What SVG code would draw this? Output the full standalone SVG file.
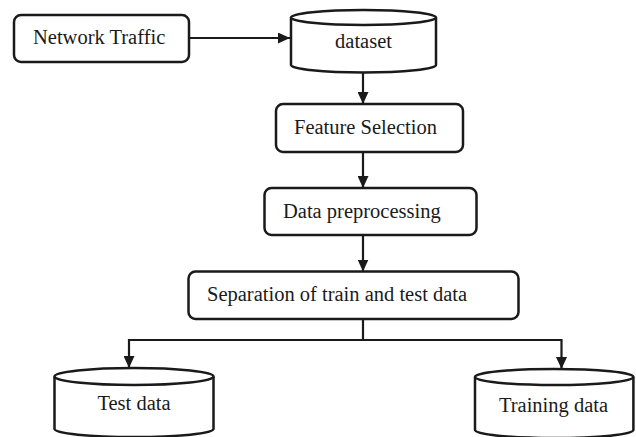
<svg xmlns="http://www.w3.org/2000/svg" width="636" height="437" viewBox="0 0 636 437">
  <style>
    .box { fill: #fff; stroke: #1a1a1a; stroke-width: 2.5; }
    .cyl { fill: #fff; stroke: #1a1a1a; stroke-width: 2.5; }
    .edge { fill: none; stroke: #1a1a1a; stroke-width: 2.2; }
    text { font-family: "Liberation Serif", "Times New Roman", serif; font-size: 20.5px; fill: #1a1a1a; }
  </style>
  <defs>
    <marker id="arrow" viewBox="0 0 12 11" refX="12" refY="5.5" markerWidth="12" markerHeight="11" markerUnits="userSpaceOnUse" orient="auto">
      <path d="M0,0 L12,5.5 L0,11 Z" fill="#1a1a1a"/>
    </marker>
  </defs>
  <rect width="636" height="437" fill="#fff"/>

  <g id="connectors">
    <line class="edge" x1="189" y1="38" x2="290" y2="38" marker-end="url(#arrow)"/>
    <line class="edge" x1="363" y1="73" x2="363" y2="104" marker-end="url(#arrow)"/>
    <line class="edge" x1="363" y1="152" x2="363" y2="188" marker-end="url(#arrow)"/>
    <line class="edge" x1="363" y1="235" x2="363" y2="271.5" marker-end="url(#arrow)"/>
    <polyline class="edge" points="363,319 363,340 129,340 129,368" marker-end="url(#arrow)"/>
    <polyline class="edge" points="363,340 561.5,340 561.5,369" marker-end="url(#arrow)"/>
  </g>

  <g id="network-traffic">
    <rect class="box" x="14" y="15" width="175" height="47" rx="7"/>
    <text x="33" y="44">Network Traffic</text>
  </g>

  <g id="dataset">
    <path class="cyl" d="M291,17.5 L291,65 A72.5,7.5 0 0 0 436,65 L436,17.5"/>
    <ellipse class="cyl" cx="363.5" cy="17.5" rx="72.5" ry="7.5"/>
    <text x="363.5" y="48" text-anchor="middle">dataset</text>
  </g>

  <g id="feature-selection">
    <rect class="box" x="276" y="104" width="187" height="48" rx="7"/>
    <text x="294" y="134">Feature Selection</text>
  </g>

  <g id="data-preprocessing">
    <rect class="box" x="264.5" y="188" width="212" height="47" rx="7"/>
    <text x="283" y="218">Data preprocessing</text>
  </g>

  <g id="separation">
    <rect class="box" x="188.5" y="271.5" width="330" height="47.5" rx="7"/>
    <text x="207" y="301">Separation of train and test data</text>
  </g>

  <g id="test-data">
    <path class="cyl" d="M54.5,376.5 L54.5,429 A79.5,8 0 0 0 213.5,429 L213.5,376.5"/>
    <ellipse class="cyl" cx="134" cy="376.5" rx="79.5" ry="8.5"/>
    <text x="134" y="409.5" text-anchor="middle">Test data</text>
  </g>

  <g id="training-data">
    <path class="cyl" d="M475,377 L475,430 A79.2,8 0 0 0 633.4,430 L633.4,377"/>
    <ellipse class="cyl" cx="554.2" cy="377" rx="79.2" ry="8"/>
    <text x="553.5" y="411.5" text-anchor="middle">Training data</text>
  </g>
</svg>
